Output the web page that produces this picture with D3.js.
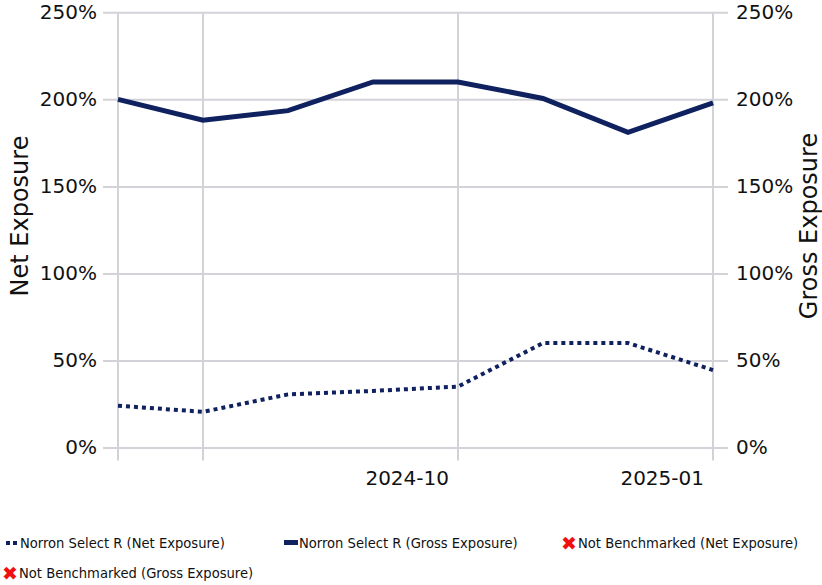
<!DOCTYPE html>
<html>
<head>
<meta charset="utf-8">
<script src="https://cdn.jsdelivr.net/npm/d3@7"></script>
<style>
  body { margin: 0; background: #fff; }
  svg text { font-family: "DejaVu Sans", Verdana, sans-serif; fill: #111; }
  .legend text { font-family: "DejaVu Sans Condensed", "DejaVu Sans", sans-serif; }
</style>
</head>
<body>
<div id="chart"></div>
<script>
  // monthly data points
  var months = ['2024-06', '2024-07', '2024-08', '2024-09', '2024-10', '2024-11', '2024-12', '2025-01'];
  var netExposure = [24, 20.5, 30.5, 32.5, 35, 60, 60, 44.5];
  var grossExposure = [200, 188, 193.5, 210, 210, 200.5, 181, 198];
  var gridMonths = ['2024-06', '2024-07', '2024-10', '2025-01'];
  var labelMonths = ['2024-10', '2025-01'];
  var yTicks = [0, 50, 100, 150, 200, 250];

  var legendItems = [
    { name: 'Norron Select R (Net Exposure)', type: 'dot' },
    { name: 'Norron Select R (Gross Exposure)', type: 'solid' },
    { name: 'Not Benchmarked (Net Exposure)', type: 'none' },
    { name: 'Not Benchmarked (Gross Exposure)', type: 'none' }
  ];

  var navy = '#0f215f';
  var gridColor = '#d2d2d8';
  var width = 822, height = 585;
  var plotLeft = 118, plotRight = 713, plotTop = 12.3, plotBottom = 447.5;

  var svg = d3.select('#chart').append('svg')
    .attr('width', width)
    .attr('height', height);

  var x = d3.scalePoint().domain(months).range([plotLeft, plotRight]).padding(0);
  var y = d3.scaleLinear().domain([0, 250]).range([plotBottom, plotTop]);

  //horizontal grid + left labels
  var yAxisL = d3.axisLeft(y)
    .tickValues(yTicks)
    .tickSize(-(plotRight - plotLeft + 30))
    .tickPadding(6)
    .tickFormat(function(d) { return d + '%'; });

  svg.append('g')
    .attr('class', 'y-left')
    .attr('transform', 'translate(' + (plotLeft - 15) + ',0)')
    .call(yAxisL)
    .call(function(g) { g.select('.domain').remove(); })
    .call(function(g) {
      g.selectAll('line').attr('stroke', gridColor).attr('stroke-width', 2);
      g.selectAll('text').style('font-size', '20px').attr('fill', '#111');
    });

  var yAxisR = d3.axisRight(y)
    .tickValues(yTicks)
    .tickSize(0)
    .tickPadding(8)
    .tickFormat(function(d) { return d + '%'; });

  svg.append('g')
    .attr('class', 'y-right')
    .attr('transform', 'translate(' + (plotRight + 15) + ',0)')
    .call(yAxisR)
    .call(function(g) { g.select('.domain').remove(); })
    .call(function(g) {
      g.selectAll('text').style('font-size', '20px').attr('fill', '#111');
    });

  //vertical grid
  svg.append('g')
    .attr('class', 'x-grid')
    .selectAll('line')
    .data(gridMonths)
    .enter().append('line')
      .attr('x1', function(d) { return x(d); })
      .attr('x2', function(d) { return x(d); })
      .attr('y1', plotTop)
      .attr('y2', plotBottom + 13)
      .attr('stroke', gridColor)
      .attr('stroke-width', 2);

  svg.append('g')
    .attr('class', 'x-labels')
    .selectAll('text')
    .data(labelMonths)
    .enter().append('text')
      .attr('x', function(d) { return x(d) - 9; })
      .attr('y', 485)
      .attr('text-anchor', 'end')
      .style('font-size', '20px')
      .text(function(d) { return d; });

  //axis titles
  svg.append('text')
    .attr('transform', 'translate(28,216) rotate(-90)')
    .attr('text-anchor', 'middle')
    .style('font-size', '24px')
    .text('Net Exposure');

  svg.append('text')
    .attr('transform', 'translate(817,226) rotate(-90)')
    .attr('text-anchor', 'middle')
    .style('font-size', '24px')
    .text('Gross Exposure');

  //lines
  var line = d3.line()
    .x(function(d, i) { return x(months[i]); })
    .y(function(d) { return y(d); });

  svg.append('path')
    .datum(grossExposure)
    .attr('fill', 'none')
    .attr('stroke', navy)
    .attr('stroke-width', 5)
    .attr('d', line);

  svg.append('path')
    .datum(netExposure)
    .attr('fill', 'none')
    .attr('stroke', navy)
    .attr('stroke-width', 4)
    .attr('stroke-dasharray', '4,4')
    .attr('d', line);

  //legend
  var legendPos = [[5, 543], [284, 543], [562, 543], [3, 573]];
  var legend = svg.append('g').attr('class', 'legend');
  var items = legend.selectAll('g')
    .data(legendItems)
    .enter().append('g')
      .attr('transform', function(d, i) { return 'translate(' + legendPos[i][0] + ',' + legendPos[i][1] + ')'; });

  items.each(function(d) {
    var g = d3.select(this);
    var tx = 15;
    if (d.type == 'dot') {
      g.append('rect').attr('x', 1).attr('y', -2).attr('width', 4).attr('height', 4).attr('fill', navy);
      g.append('rect').attr('x', 8).attr('y', -2).attr('width', 4).attr('height', 4).attr('fill', navy);
    } else if (d.type == 'solid') {
      g.append('rect').attr('x', 0).attr('y', -3).attr('width', 14).attr('height', 5).attr('fill', navy);
    } else {
      g.append('text')
        .attr('x', -1)
        .attr('y', 7)
        .style('font-size', '19px')
        .style('font-family', '"DejaVu Sans", sans-serif')
        .style('fill', '#f01010')
        .text('\u2716');
      tx = 16;
    }
    g.append('text')
      .attr('x', tx)
      .attr('y', 5)
      .style('font-size', '14.6px')
      .text(d.name);
  });
</script>
</body>
</html>
